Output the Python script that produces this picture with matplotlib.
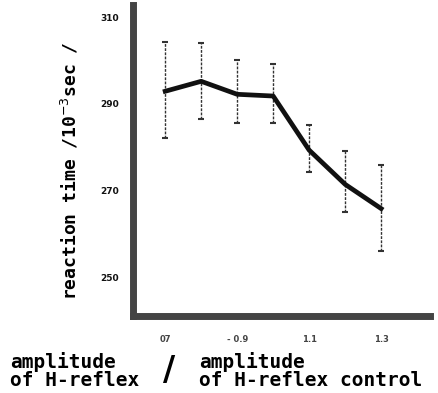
import matplotlib
matplotlib.use("Agg")
import matplotlib.pyplot as plt
import numpy as np

# amplitude ratio (test / control) and reaction time in ms
amplitude = [0.7, 0.8, 0.9, 1.0, 1.1, 1.2, 1.3]
reaction_time = [292.9, 295.2, 292.2, 291.8, 279.3, 271.4, 265.8]
err_upper = [304.3, 304.1, 300.2, 299.1, 285.1, 279.1, 275.8]
err_lower = [282.1, 286.4, 285.5, 285.5, 274.3, 264.9, 256.0]

xticks = [0.7, 0.9, 1.1, 1.3]
xtick_labels = ["07", "- 0.9", "1.1", "1.3"]
yticks = [250, 270, 290, 310]

rt = np.array(reaction_time)
yerr = [rt - np.array(err_lower), np.array(err_upper) - rt]

mono = "DejaVu Sans Mono"

fig = plt.figure(figsize=(4.38, 3.93), dpi=100)
ax = fig.add_axes([0.304, 0.196, 0.678, 0.791])

eb = ax.errorbar(amplitude, rt, yerr=yerr, fmt="none", ecolor="#333333",
                 elinewidth=1.0, capsize=2, capthick=1.5)
eb[2][0].set_linestyle((0, (2, 1)))
ax.plot(amplitude, rt, color="#111111", lw=3.4, solid_joinstyle="round")

ax.set_xlim(0.611, 1.436)
ax.set_ylim(241, 312.8)
ax.set_xticks(xticks)
ax.set_xticklabels(xtick_labels, fontsize=6, color="#444444", fontweight="bold")
ax.set_yticks(yticks)
ax.set_yticklabels([str(v) for v in yticks], fontsize=6.5, color="#111111", fontweight="bold")
ax.tick_params(length=2, width=0.8, color="#777777")
ax.tick_params(axis="x", pad=12)
ax.tick_params(axis="y", pad=8)

for side in ["top", "right"]:
    ax.spines[side].set_visible(False)
for side in ["left", "bottom"]:
    ax.spines[side].set_linewidth(5)
    ax.spines[side].set_color("#444444")

fig.text(0.16, 0.565, r"reaction time /10$^{-3}$sec /", rotation=90,
         ha="center", va="center", fontsize=13, fontweight="bold", family=mono)

fig.text(0.022, 0.056, "amplitude\nof H-reflex", ha="left", va="center",
         fontsize=14, fontweight="bold", family=mono, linespacing=0.95)
fig.text(0.385, 0.056, "/", ha="center", va="center", fontsize=24, fontweight="bold")
fig.text(0.455, 0.056, "amplitude\nof H-reflex control", ha="left", va="center",
         fontsize=14, fontweight="bold", family=mono, linespacing=0.95)

fig.savefig("out.png", dpi=100)
